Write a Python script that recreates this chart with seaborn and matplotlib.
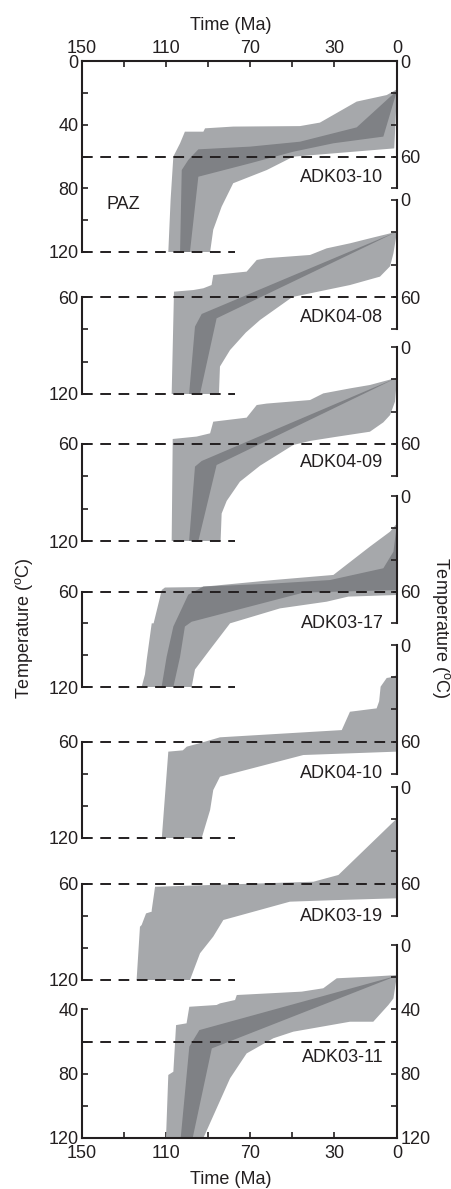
import matplotlib
matplotlib.use('Agg')
import matplotlib.pyplot as plt
import seaborn as sns

sns.set_style('ticks')
plt.rcParams['font.family'] = ['Liberation Sans', 'DejaVu Sans']
plt.rcParams['mathtext.default'] = 'regular'

# ---- data: modelled t-T envelopes (time in Ma, temperature in degC) ----
# each outline runs along the cool edge from the oldest point to 0 Ma,
# then back along the hot edge
samples = ['ADK03-10', 'ADK04-08', 'ADK04-09', 'ADK03-17', 'ADK04-10', 'ADK03-19', 'ADK03-11']

adk0310_light_t = [108.9, 107.8, 106.5, 103.3, 101.0, 92.2, 91.4, 78.0, 46.2, 36.7, 19.2, 4.9, 0.0,
                   1.3, 20.8, 49.4, 62.0, 78.0, 83.5, 87.5, 89.0]
adk0310_light_T = [120, 87, 60, 51.7, 44.4, 44.4, 42.3, 41.2, 40.9, 38.7, 25.5, 21.4, 17.8,
                   54.9, 57.0, 60.1, 68.5, 76.8, 91.5, 106, 120]
adk0310_dark_t = [103.3, 102.5, 99.4, 94.6, 70.0, 46.2, 19.2, 0.0,
                  6.5, 30.3, 49.4, 70.0, 94.6, 98.6]
adk0310_dark_T = [120, 68.5, 62.2, 55.5, 53.8, 50.7, 41.7, 18.6,
                  47.5, 51.7, 57.0, 64.3, 72.7, 120]

adk0408_light_t = [107.3, 106.2, 97.0, 92.2, 88.3, 87.5, 71.6, 66.8, 62.1, 41.4, 33.5, 22.4, 12.9, 0.0,
                   1.7, 3.3, 8.1, 22.4, 49.8, 65.2, 72.0, 79.5, 84.3, 84.8]
adk0408_light_T = [120, 56.7, 55.7, 54.6, 52.6, 46.4, 44.3, 37.1, 36.0, 34.0, 29.9, 26.8, 23.7, 19.6,
                   33.0, 41.0, 47.4, 52.6, 60.0, 74.2, 82.0, 92.8, 103, 120]
adk0408_dark_t = [99.0, 96.2, 93.0, 0.0, 85.9, 93.8]
adk0408_dark_T = [120, 78.3, 70.5, 19.6, 73.2, 120]

adk0409_light_t = [107.3, 106.8, 95.4, 89.0, 87.5, 71.6, 66.8, 62.1, 41.4, 35.1, 22.4, 12.9, 0.0,
                   0.95, 3.3, 6.5, 12.9, 28.7, 41.4, 49.4, 65.2, 74.8, 81.1, 83.5, 84.0]
adk0409_light_T = [120, 56.9, 55.4, 53.4, 46.2, 43.7, 35.9, 35.0, 32.8, 28.7, 25.6, 23.5, 19.0,
                   33.8, 42.1, 46.6, 52.4, 55.5, 58.1, 60.6, 73.4, 83.3, 95.2, 103, 120]
adk0409_dark_t = [99.0, 96.2, 93.0, 0.0, 85.9, 94.6]
adk0409_dark_T = [120, 74.0, 70.5, 19.0, 73.0, 120]

adk0317_light_t = [121.6, 120.0, 119.2, 116.8, 115.9, 112.0, 110.5, 93.8, 58.9, 30.3, 12.9, 3.3, 0.0,
                   0.0, 23.2, 33.5, 55.7, 79.5, 89.0, 96.2, 97.8]
adk0317_light_T = [120, 112, 103, 80, 80, 59, 57.5, 57.2, 52.8, 49.6, 31.8, 22.4, 17.2,
                   62.2, 63.2, 66.4, 70.6, 80.0, 96.4, 109, 120]
adk0317_dark_t = [112.1, 109.7, 106.5, 99.4, 92.2, 58.9, 31.9, 6.5, 1.7, 0.0,
                  0.0, 44.6, 97.8, 101.0, 103.3, 106.5]
adk0317_dark_T = [120, 101, 82, 62, 56.9, 55.0, 52.8, 45.4, 35.0, 17.2,
                  59.1, 60.7, 79.0, 82.0, 101, 120]

adk0410_light_t = [112.0, 108.9, 102.0, 100.1, 93.8, 84.3, 26.3, 22.4, 9.7, 8.5, 7.8, 4.9, 2.5, 0.0,
                   0.0, 44.6, 84.3, 87.5, 89.0, 93.0]
adk0410_light_T = [120, 66.3, 65.5, 63.2, 61.0, 57.4, 52.9, 41.5, 39.4, 35.0, 25.9, 20.5, 20.0, 18.7,
                   66.3, 68.4, 81.9, 90.2, 102.6, 120]

adk0319_light_t = [124.0, 122.4, 121.6, 119.5, 116.8, 116.8, 115.2, 114.4, 39.8, 27.9, 0.0,
                   0.0, 28.7, 51.0, 82.7, 87.5, 93.8, 98.6]
adk0319_light_T = [120, 86.9, 85.8, 78.6, 77.5, 76.5, 62.0, 62.0, 58.9, 54.7, 19.5,
                   69.2, 70.3, 71.3, 82.7, 93.0, 103.4, 120]

adk0311_light_t = [110.0, 108.9, 106.5, 105.2, 100.2, 98.9, 85.9, 84.3, 77.1, 76.3, 45.4, 35.1, 28.7, 12.9, 0.0,
                   1.7, 4.1, 11.3, 22.4, 49.4, 58.9, 71.6, 79.5, 92.2]
adk0311_light_T = [120, 80.8, 78.8, 49.8, 48.7, 38.4, 37.3, 36.3, 34.2, 31.1, 29.0, 26.9, 20.7, 19.7, 18.7,
                   33.2, 37.3, 47.7, 47.7, 53.9, 58.0, 67.4, 82.9, 120]
adk0311_dark_t = [103.0, 98.9, 94.1, 0.0, 88.2, 97.3]
adk0311_dark_T = [120, 63.2, 52.9, 19.1, 64.3, 120]

light_t = [adk0310_light_t, adk0408_light_t, adk0409_light_t, adk0317_light_t,
           adk0410_light_t, adk0319_light_t, adk0311_light_t]
light_T = [adk0310_light_T, adk0408_light_T, adk0409_light_T, adk0317_light_T,
           adk0410_light_T, adk0319_light_T, adk0311_light_T]
dark_t = [adk0310_dark_t, adk0408_dark_t, adk0409_dark_t, adk0317_dark_t,
          None, None, adk0311_dark_t]
dark_T = [adk0310_dark_T, adk0408_dark_T, adk0409_dark_T, adk0317_dark_T,
          None, None, adk0311_dark_T]

# partial annealing zone and how far the 120 degC line is drawn
paz_top, paz_base, paz_base_end = 60, 120, 77

# ---- layout (pixels of the 452 x 1189 figure) ----
W, H = 452, 1189
x_left, x_right = 82, 397
y_top = [61, 200, 347, 496, 645, 787, 945]
y_bot = [252, 394, 541, 687, 838, 980, 1138]
label_T = [73, 72.4, 71.7, 80.4, 80.2, 80.8, 69.7]

light = '#a6a8ab'
dark = '#7f8185'
ink = '#231f20'
fs = 13

time_ticks = [150, 130, 110, 90, 70, 50, 30, 0]
time_labels = ['150', '', '110', '', '70', '', '30', '0']


def labels_for(ticks, shown):
    return [str(v) if v in shown else '' for v in ticks]


fig = plt.figure(figsize=(W / 100, H / 100), dpi=100)

for i, name in enumerate(samples):
    rect = [x_left / W, 1 - y_bot[i] / H, (x_right - x_left) / W, (y_bot[i] - y_top[i]) / H]
    ax = fig.add_axes(rect)
    ax.patch.set_visible(False)
    ax.set_xlim(150, 0)
    ax.set_ylim(120, 0)

    ax.fill(light_t[i], light_T[i], color=light, lw=0, zorder=1)
    if dark_t[i] is not None:
        ax.fill(dark_t[i], dark_T[i], color=dark, lw=0, zorder=2)

    ax.axhline(paz_top, color=ink, lw=1.4, dashes=(5.5, 3.9), zorder=3, clip_on=False)
    if i < len(samples) - 1:
        ax.plot([150, paz_base_end], [paz_base, paz_base], color=ink, lw=1.4,
                dashes=(5.5, 3.9), zorder=3, clip_on=False)

    ax.text(6.5, label_T[i], name, ha='right', va='center', fontsize=fs, color=ink)
    if i == 0:
        ax.text(130.5, 90, 'PAZ', ha='center', va='center', fontsize=fs, color=ink)

    # left temperature axis
    if i == 0:
        lo, shown = 0, [0, 40, 80, 120]
    elif i == len(samples) - 1:
        lo, shown = 40, [40, 80, 120]
    else:
        lo, shown = 60, [60, 120]
    lticks = list(range(lo, 121, 20))
    ax.spines['left'].set_bounds(lo, 120)
    ax.set_yticks(lticks)
    ax.set_yticklabels(labels_for(lticks, shown))

    for s in ['left', 'right', 'top', 'bottom']:
        ax.spines[s].set_linewidth(1.5)
        ax.spines[s].set_color(ink)
    ax.spines['right'].set_visible(False)

    # time axis only on the first (top) and last (bottom) panels
    if i == 0:
        ax.spines['bottom'].set_visible(False)
        ax.xaxis.tick_top()
        ax.set_xticks(time_ticks)
        ax.set_xticklabels(time_labels)
    elif i == len(samples) - 1:
        ax.spines['top'].set_visible(False)
        ax.set_xticks(time_ticks)
        ax.set_xticklabels(time_labels)
    else:
        ax.spines['top'].set_visible(False)
        ax.spines['bottom'].set_visible(False)
        ax.set_xticks([])

    ax.tick_params(axis='both', direction='in', length=4, width=1.2, color=ink,
                   labelsize=fs, labelcolor=ink, pad=2.5)
    if i == 0:
        ax.tick_params(axis='x', pad=3)
    if i == len(samples) - 1:
        ax.tick_params(axis='x', pad=5)

    # right temperature axis
    ax2 = ax.twinx()
    ax2.set_ylim(120, 0)
    for s in ['left', 'top', 'bottom']:
        ax2.spines[s].set_visible(False)
    ax2.spines['right'].set_linewidth(1.5)
    ax2.spines['right'].set_color(ink)
    if i == len(samples) - 1:
        hi, rshown = 120, [0, 40, 80, 120]
    else:
        hi, rshown = 80, [0, 60]
    rticks = list(range(0, hi + 1, 20))
    ax2.spines['right'].set_bounds(0, hi)
    ax2.set_yticks(rticks)
    ax2.set_yticklabels(labels_for(rticks, rshown))
    ax2.tick_params(axis='y', direction='in', length=4, width=1.2, color=ink,
                    labelsize=fs, labelcolor=ink, pad=2.5)

fig.text(231 / W, 1 - 25 / H, 'Time (Ma)', ha='center', va='center', fontsize=fs, color=ink)
fig.text(231 / W, 1 - 1180 / H, 'Time (Ma)', ha='center', va='center', fontsize=fs, color=ink)
fig.text(24 / W, 1 - 628 / H, 'Temperature ($^{o}$C)', rotation=90, ha='center', va='center',
         fontsize=fs, color=ink)
fig.text(441 / W, 1 - 628 / H, 'Temperature ($^{o}$C)', rotation=270, ha='center', va='center',
         fontsize=fs, color=ink)

fig.savefig('out.png', dpi=100)
